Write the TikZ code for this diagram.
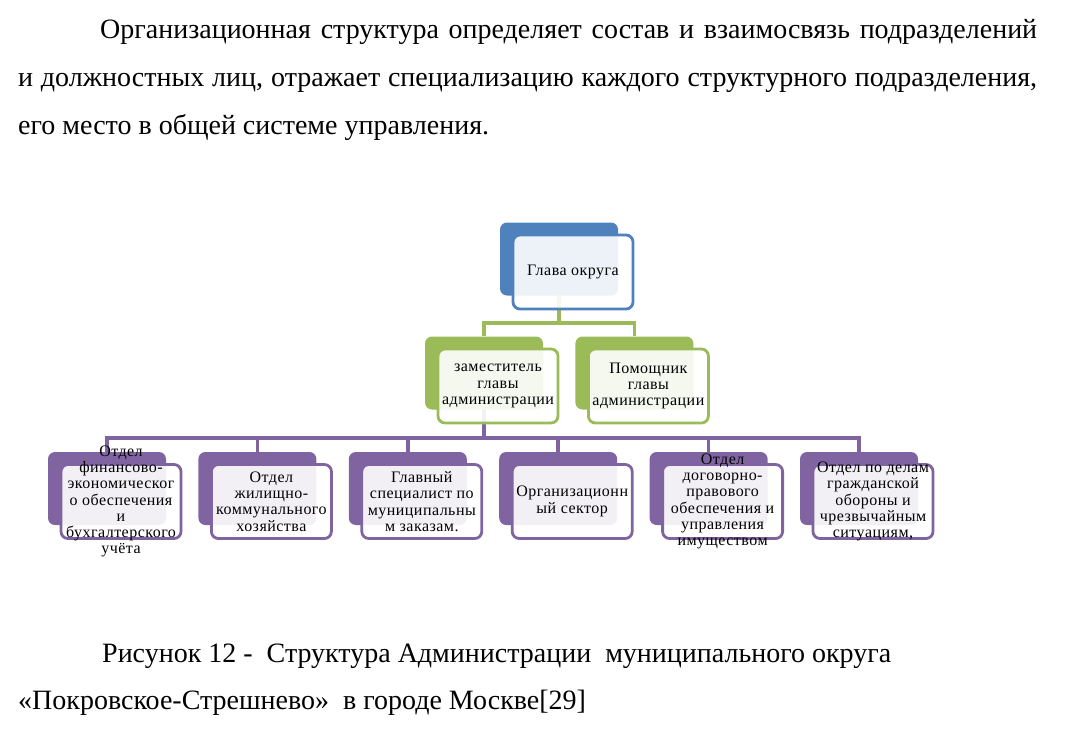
\documentclass[tikz,border=0pt]{standalone}
\usepackage{fontspec}
\setmainfont{LiberationSerif}[Extension=.ttf, UprightFont=*-Regular, BoldFont=*-Bold, ItalicFont=*-Italic, BoldItalicFont=*-BoldItalic]
\newfontfamily\boxfont{LiberationSerif}[Extension=.ttf, UprightFont=*-Regular, LetterSpace=3]
\usepackage{tikz}
\usetikzlibrary{positioning, backgrounds}
\definecolor{ofblue}{HTML}{4F81BD}
\definecolor{ofgreen}{HTML}{9BBB59}
\definecolor{ofviolet}{HTML}{8064A2}

\begin{document}
\begin{tikzpicture}[
  x=1pt, y=-1pt,
  node distance=32pt,
  back/.style={fill=#1, rounded corners=7pt, minimum width=118pt, minimum height=73pt, inner sep=0pt},
  front/.style={draw=#1, line width=2.8pt, fill=white, fill opacity=0.9, rounded corners=7pt,
    minimum width=120pt, minimum height=74pt, inner sep=0pt, xshift=14pt, yshift=-13pt},
  boxtext/.style={align=center, inner sep=0pt, font=\boxfont\fontsize{16}{16.3}\selectfont},
  link/.style={line width=3.5pt, #1},
  txtline/.style={anchor=base west, inner sep=0pt, font=\fontsize{28}{30}\selectfont},
]
\useasboundingbox (0,0) rectangle (1069,732);

% paragraph above the chart
\node[txtline] (par1) at (100,38) {\makebox[937pt][s]{Организационная структура определяет состав и взаимосвязь подразделений}};
\node[txtline] (par2) at (18,86) {\makebox[1019pt][s]{и должностных лиц, отражает специализацию каждого структурного подразделения,}};
\node[txtline] (par3) at (18,134) {его место в общей системе управления.};

% head
\node[back=ofblue] (glava-b) at (559,259) {};
\node[front=ofblue] (glava) at (glava-b) {};
\node[boxtext] (glava-t) at (glava) {Глава округа};

% second level
\node[back=ofgreen] (zam-b) at (484,373) {};
\node[front=ofgreen] (zam) at (zam-b) {};
\node[boxtext] (zam-t) at (zam) {заместитель\\главы\\администрации};
\node[back=ofgreen, right=of zam-b] (pom-b) {};
\node[front=ofgreen] (pom) at (pom-b) {};
\node[boxtext] (pom-t) at (pom) {Помощник\\главы\\администрации};

% departments
\node[back=ofviolet] (d1-b) at (107,488.5) {};
\node[front=ofviolet] (d1) at (d1-b) {};
\node[boxtext] (d1-t) at (d1) {Отдел\\финансово-\\экономическог\\о обеспечения\\и\\бухгалтерского\\учёта};
\node[back=ofviolet, right=of d1-b] (d2-b) {};
\node[front=ofviolet] (d2) at (d2-b) {};
\node[boxtext] (d2-t) at (d2) {Отдел\\жилищно-\\коммунального\\хозяйства};
\node[back=ofviolet, right=of d2-b] (d3-b) {};
\node[front=ofviolet] (d3) at (d3-b) {};
\node[boxtext] (d3-t) at (d3) {Главный\\специалист по\\муниципальны\\м заказам.};
\node[back=ofviolet, right=of d3-b] (d4-b) {};
\node[front=ofviolet] (d4) at (d4-b) {};
\node[boxtext] (d4-t) at (d4) {Организационн\\ый сектор};
\node[back=ofviolet, right=of d4-b] (d5-b) {};
\node[front=ofviolet] (d5) at (d5-b) {};
\node[boxtext] (d5-t) at (d5) {Отдел\\договорно-\\правового\\обеспечения и\\управления\\имуществом};
\node[back=ofviolet, right=of d5-b] (d6-b) {};
\node[front=ofviolet] (d6) at (d6-b) {};
\node[boxtext] (d6-t) at (d6) {Отдел по делам\\гражданской\\обороны и\\чрезвычайным\\ситуациям,};

% connectors behind the boxes
\begin{scope}[on background layer]
  \coordinate (gbus) at (559,323);
  \draw[link=ofgreen] (glava-b.center) -- (gbus) -| (zam-b.north);
  \draw[link=ofgreen] (gbus) -| (pom-b.north);
  \coordinate (vbus) at (484,438);
  \draw[link=ofviolet] (zam-b.center) -- (vbus) -| (d1-b.north);
  \foreach \n in {d2,d3,d4,d5,d6}
    \draw[link=ofviolet] (vbus) -| (\n-b.north);
\end{scope}

% caption
\node[txtline] (cap1) at (102,662) {Рисунок 12 -\ \ Структура Администрации\ \ муниципального округа};
\node[txtline] (cap2) at (18,709) {«Покровское-Стрешнево»\ \ в городе Москве[29]};

\end{tikzpicture}
\end{document}
